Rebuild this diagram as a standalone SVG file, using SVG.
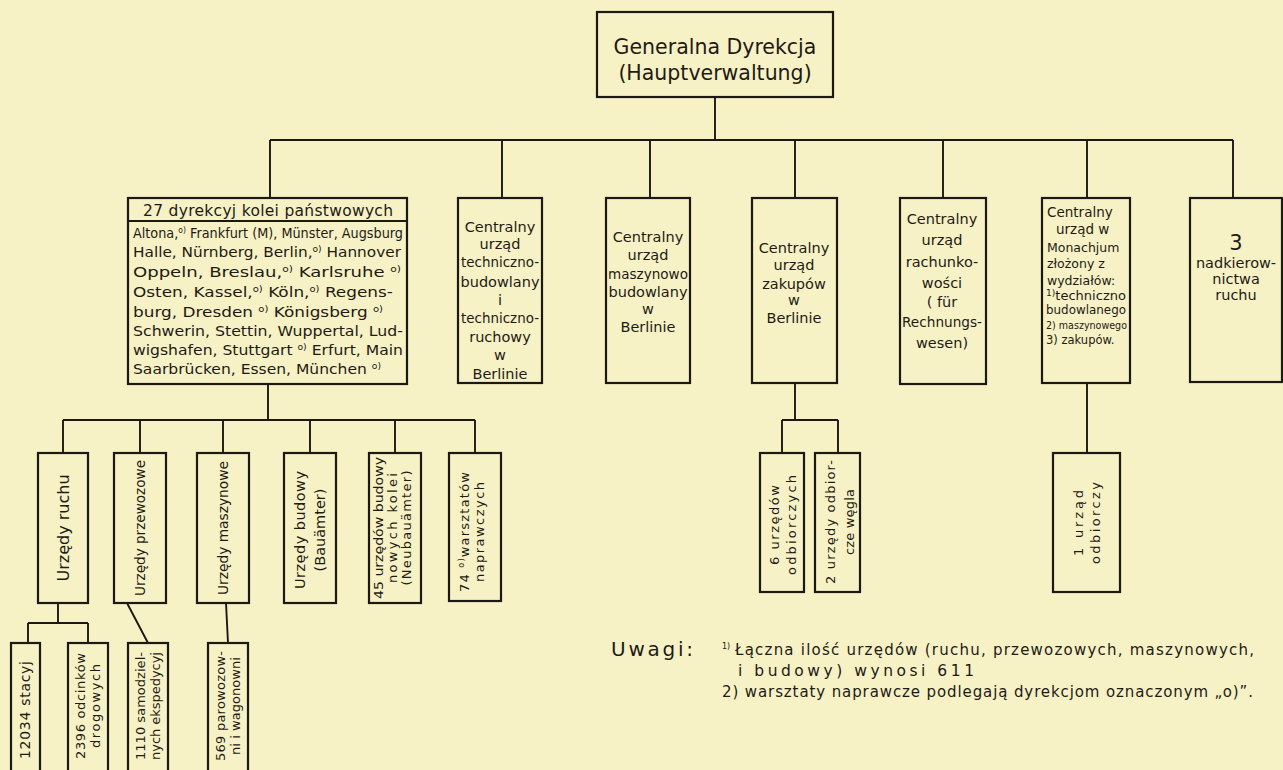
<svg xmlns="http://www.w3.org/2000/svg" width="1283" height="770" viewBox="0 0 1283 770">
<style>
.bx{fill:none;stroke:#1c1813;stroke-width:2.2}
.ln{fill:none;stroke:#1c1813;stroke-width:1.9}
text{font-family:"DejaVu Sans","Liberation Sans",sans-serif;fill:#1f1a14}
.c{text-anchor:middle}
.s14{font-size:14.5px}
.s13{font-size:13.5px}
.s12{font-size:13px}
.sup{font-size:8px}
</style>
<rect x="0" y="0" width="1283" height="770" fill="#f6f2c6"/>
<g id="connectors">
<path class="ln" d="M715 97V140M270 140H1233M270 140V198M502 140V198M650 140V198M795 140V198M943 140V198M1087 140V198M1233 140V198"/>
<path class="ln" d="M268 384V420M63 420H475M63 420V453M140 420V453M223 420V453M310 420V453M395 420V453M475 420V453"/>
<path class="ln" d="M58 603V623M28 623H88M28 623V643M88 623V643M127 603L148 643M226 603L228 643"/>
<path class="ln" d="M795 383V420M782 420H838M782 420V453M838 420V453M1087 383V453"/>
</g>
<g id="n-top">
<rect class="bx" x="597" y="12" width="236" height="85"/>
<text class="c" x="715" y="54" font-size="20.5">Generalna Dyrekcja</text>
<text class="c" x="715" y="80" font-size="20.5">(Hauptverwaltung)</text>
</g>
<g id="n-dyrekcje">
<rect class="bx" x="128" y="198" width="279" height="186"/>
<line class="ln" x1="128" y1="221" x2="407" y2="221"/>
<text class="c" x="268" y="216" font-size="15.5" textLength="250">27 dyrekcyj kolei państwowych</text>
<g class="s13">
<text x="133" y="238" textLength="270" lengthAdjust="spacingAndGlyphs">Altona,<tspan class="sup" dy="-5">o)</tspan><tspan dy="5"> Frankfurt (M), Münster, Augsburg</tspan></text>
<text x="133" y="257" textLength="268" lengthAdjust="spacingAndGlyphs">Halle, Nürnberg, Berlin,<tspan class="sup" dy="-5">o)</tspan><tspan dy="5"> Hannover</tspan></text>
<text x="133" y="277" textLength="268" lengthAdjust="spacingAndGlyphs">Oppeln, Breslau,<tspan class="sup" dy="-5">o)</tspan><tspan dy="5"> Karlsruhe </tspan><tspan class="sup" dy="-5">o)</tspan></text>
<text x="133" y="297" textLength="260" lengthAdjust="spacingAndGlyphs">Osten, Kassel,<tspan class="sup" dy="-5">o)</tspan><tspan dy="5"> Köln,</tspan><tspan class="sup" dy="-5">o)</tspan><tspan dy="5"> Regens-</tspan></text>
<text x="133" y="317" textLength="250" lengthAdjust="spacingAndGlyphs">burg, Dresden <tspan class="sup" dy="-5">o)</tspan><tspan dy="5"> Königsberg </tspan><tspan class="sup" dy="-5">o)</tspan></text>
<text x="133" y="336" textLength="270" lengthAdjust="spacingAndGlyphs">Schwerin, Stettin, Wuppertal, Lud-</text>
<text x="133" y="355" textLength="270" lengthAdjust="spacingAndGlyphs">wigshafen, Stuttgart <tspan class="sup" dy="-5">o)</tspan><tspan dy="5"> Erfurt, Main</tspan></text>
<text x="133" y="374" textLength="248" lengthAdjust="spacingAndGlyphs">Saarbrücken, Essen, München <tspan class="sup" dy="-5">o)</tspan></text>
</g>
</g>
<g id="n-c1" class="s14">
<rect class="bx" x="458" y="198" width="84" height="185"/>
<text class="c" x="500" y="232">Centralny</text>
<text class="c" x="500" y="249">urząd</text>
<text class="c" x="500" y="267" textLength="78" lengthAdjust="spacingAndGlyphs">techniczno-</text>
<text class="c" x="500" y="287">budowlany</text>
<text class="c" x="500" y="305">i</text>
<text class="c" x="500" y="323" textLength="78" lengthAdjust="spacingAndGlyphs">techniczno-</text>
<text class="c" x="500" y="342">ruchowy</text>
<text class="c" x="500" y="360">w</text>
<text class="c" x="500" y="379">Berlinie</text>
</g>
<g id="n-c2" class="s14">
<rect class="bx" x="606" y="198" width="84" height="185"/>
<text class="c" x="648" y="242">Centralny</text>
<text class="c" x="648" y="260">urząd</text>
<text class="c" x="648" y="279" textLength="80" lengthAdjust="spacingAndGlyphs">maszynowo</text>
<text class="c" x="648" y="297">budowlany</text>
<text class="c" x="648" y="314">w</text>
<text class="c" x="648" y="332">Berlinie</text>
</g>
<g id="n-c3" class="s14">
<rect class="bx" x="752" y="198" width="85" height="185"/>
<text class="c" x="794" y="253">Centralny</text>
<text class="c" x="794" y="270">urząd</text>
<text class="c" x="794" y="289">zakupów</text>
<text class="c" x="794" y="305">w</text>
<text class="c" x="794" y="323">Berlinie</text>
</g>
<g id="n-c4" class="s14">
<rect class="bx" x="900" y="198" width="86" height="186"/>
<text class="c" x="942" y="224">Centralny</text>
<text class="c" x="942" y="245">urząd</text>
<text class="c" x="942" y="267">rachunko-</text>
<text class="c" x="942" y="288">wości</text>
<text class="c" x="942" y="307">( für</text>
<text class="c" x="942" y="327" textLength="80" lengthAdjust="spacingAndGlyphs">Rechnungs-</text>
<text class="c" x="942" y="348">wesen)</text>
</g>
<g id="n-c5">
<rect class="bx" x="1042" y="198" width="88" height="185"/>
<text x="1047" y="217" font-size="13.5">Centralny</text>
<text x="1056" y="234" font-size="13.5">urząd w</text>
<text x="1047" y="252" font-size="12.5">Monachjum</text>
<text x="1047" y="268" font-size="12.5">złożony z</text>
<text x="1047" y="285" font-size="12.5">wydziałów:</text>
<text x="1046" y="300" font-size="11.5" textLength="80" lengthAdjust="spacingAndGlyphs"><tspan class="sup" dy="-4">1)</tspan><tspan dy="4">techniczno</tspan></text>
<text x="1046" y="314" font-size="11.5" textLength="80" lengthAdjust="spacingAndGlyphs">budowlanego</text>
<text x="1046" y="329" font-size="11" textLength="81" lengthAdjust="spacingAndGlyphs">2) maszynowego</text>
<text x="1046" y="344" font-size="11.5">3) zakupów.</text>
</g>
<g id="n-c6">
<rect class="bx" x="1190" y="198" width="92" height="184"/>
<text class="c" x="1236" y="250" font-size="21">3</text>
<text class="c" x="1236" y="268" font-size="14.5">nadkierow-</text>
<text class="c" x="1236" y="284" font-size="14.5">nictwa</text>
<text class="c" x="1236" y="300" font-size="14.5">ruchu</text>
</g>
<g id="n-ruchu">
<rect class="bx" x="38" y="453" width="50" height="150"/>
<text class="c" font-size="16" transform="translate(63 528) rotate(-90)" x="0" y="6">Urzędy ruchu</text>
</g>
<g id="n-przewozowe">
<rect class="bx" x="114" y="453" width="52" height="150"/>
<text class="c" font-size="13.5" transform="translate(140 528) rotate(-90)" x="0" y="5" textLength="136" lengthAdjust="spacingAndGlyphs">Urzędy przewozowe</text>
</g>
<g id="n-maszynowe">
<rect class="bx" x="197" y="453" width="52" height="150"/>
<text class="c" font-size="13.5" transform="translate(223 528) rotate(-90)" x="0" y="5" textLength="134" lengthAdjust="spacingAndGlyphs">Urzędy maszynowe</text>
</g>
<g id="n-budowy" class="s14">
<rect class="bx" x="284" y="453" width="52" height="150"/>
<text class="c" transform="translate(310 530) rotate(-90)" x="0" y="-5" textLength="118">Urzędy budowy</text>
<text class="c" transform="translate(310 530) rotate(-90)" x="0" y="15">(Bauämter)</text>
</g>
<g id="n-nowe" class="s12">
<rect class="bx" x="369" y="453" width="52" height="150"/>
<text class="c" transform="translate(395 528) rotate(-90)" x="0" y="-12" textLength="142" lengthAdjust="spacingAndGlyphs">45 urzędów budowy</text>
<text class="c" transform="translate(395 528) rotate(-90)" x="0" y="2" textLength="110">nowych kolei</text>
<text class="c" transform="translate(395 528) rotate(-90)" x="0" y="16" textLength="115">(Neubauämter)</text>
</g>
<g id="n-warsztaty" class="s12">
<rect class="bx" x="449" y="453" width="52" height="148"/>
<text class="c" transform="translate(475 532) rotate(-90)" x="0" y="-6" textLength="120">74 <tspan class="sup" dy="-5">o)</tspan><tspan dy="5">warsztatów</tspan></text>
<text class="c" transform="translate(475 532) rotate(-90)" x="0" y="9" textLength="100">naprawczych</text>
</g>
<g id="n-stacyj">
<rect class="bx" x="11" y="643" width="29" height="130"/>
<text class="c" font-size="14" transform="translate(25 710) rotate(-90)" x="0" y="5" textLength="98">12034 stacyj</text>
</g>
<g id="n-odcinki" class="s12">
<rect class="bx" x="68" y="643" width="40" height="130"/>
<text class="c" transform="translate(88 706) rotate(-90)" x="0" y="-3" textLength="106">2396 odcinków</text>
<text class="c" transform="translate(88 706) rotate(-90)" x="0" y="12" textLength="84">drogowych</text>
</g>
<g id="n-ekspedycje" class="s12">
<rect class="bx" x="128" y="643" width="40" height="130"/>
<text class="c" transform="translate(148 706) rotate(-90)" x="0" y="-3" textLength="108">1110 samodziel-</text>
<text class="c" transform="translate(148 706) rotate(-90)" x="0" y="12" textLength="108">nych ekspedycyj</text>
</g>
<g id="n-parowozownie" class="s12">
<rect class="bx" x="208" y="643" width="40" height="130"/>
<text class="c" transform="translate(228 706) rotate(-90)" x="0" y="-3" textLength="110">569 parowozow-</text>
<text class="c" transform="translate(228 706) rotate(-90)" x="0" y="12" textLength="98">ni i wagonowni</text>
</g>
<g id="n-odbiorcze6" class="s12">
<rect class="bx" x="760" y="453" width="44" height="139"/>
<text class="c" transform="translate(782 525) rotate(-90)" x="0" y="-3" textLength="80">6 urzędów</text>
<text class="c" transform="translate(782 525) rotate(-90)" x="0" y="14" textLength="100">odbiorczych</text>
</g>
<g id="n-wegiel" class="s12">
<rect class="bx" x="815" y="453" width="45" height="139"/>
<text class="c" transform="translate(838 522) rotate(-90)" x="0" y="-3" textLength="124">2 urzędy odbior-</text>
<text class="c" transform="translate(838 522) rotate(-90)" x="0" y="16" textLength="66">cze węgla</text>
</g>
<g id="n-odbiorczy1" class="s12">
<rect class="bx" x="1053" y="453" width="67" height="139"/>
<text class="c" transform="translate(1086 523) rotate(-90)" x="0" y="-3" textLength="66">1 urząd</text>
<text class="c" transform="translate(1086 523) rotate(-90)" x="0" y="14" textLength="82">odbiorczy</text>
</g>
<g id="uwagi">
<text x="611" y="656" font-size="20" textLength="82">Uwagi:</text>
<text x="722" y="655" font-size="15"><tspan class="sup" font-size="9" dy="-6">1)</tspan><tspan dy="6" x="735" textLength="519">Łączna ilość urzędów (ruchu, przewozowych, maszynowych,</tspan></text>
<text x="738" y="676" font-size="15.5" textLength="236">i budowy) wynosi 611</text>
<text x="722" y="697" font-size="15" textLength="531">2) warsztaty naprawcze podlegają dyrekcjom oznaczonym „o)”.</text>
</g>
</svg>
